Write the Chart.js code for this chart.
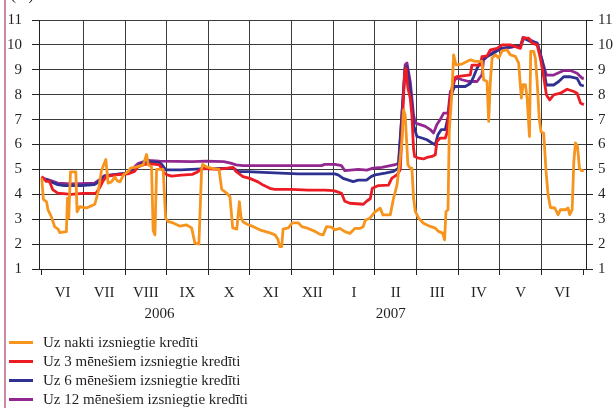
<!DOCTYPE html>
<html>
<head>
<meta charset="utf-8">
<script src="https://cdn.jsdelivr.net/npm/chart.js@4/dist/chart.umd.min.js"></script>
<style>
  html, body { margin: 0; padding: 0; background: #fff; }
  #wrap { position: relative; width: 615px; height: 408px; overflow: hidden; }
  #frame { position: absolute; left: 4px; top: 0; width: 0; height: 408px; border-left: 2px solid #c98b9f; }
  #unit { position: absolute; left: 11px; top: -13px; font: 15px "Liberation Serif", serif; color: #231f20; }
  #legend { position: absolute; left: 9px; top: 333px; font: 15px "Liberation Serif", serif; color: #231f20; }
  #legend .row { height: 19px; line-height: 19px; white-space: nowrap; }
  #legend .sw { display: inline-block; width: 24px; height: 3px; vertical-align: middle; margin-right: 10px; position: relative; top: -1px; }
</style>
</head>
<body>
<div id="wrap">
  <canvas id="c" width="615" height="408"></canvas>
  <div id="frame"></div>
  <div id="unit">(%)</div>
  <div id="legend"></div>
</div>
<script>
// x values: days counted from 1 June 2006 (one month = 365/12 days on the axis)
const seriesLabels = [
  "Uz nakti izsniegtie kredīti",
  "Uz 3 mēnešiem izsniegtie kredīti",
  "Uz 6 mēnešiem izsniegtie kredīti",
  "Uz 12 mēnešiem izsniegtie kredīti"
];
const seriesColors = ["#f7941d", "#ed1c24", "#2e3192", "#92278f"];

const monthLabels = ["VI","VII","VIII","IX","X","XI","XII","I","II","III","IV","V","VI",""];
const yearLabels = ["2006", "2007"];
const yearLabelDays = [86, 255];
const yTickValues = [1,2,3,4,5,6,7,8,9,10,11];

const nightDays = [0,1.2,3.5,4.6,7,9.5,12,13.2,18,18.8,19.7,21,24.9,25.8,27.8,32.7,38.8,41.2,43.7,46.8,48.5,51,53.4,55,57.1,60,62.9,64.9,69.3,74.1,76.6,77.8,80.2,81.4,82.7,83.9,88.7,90.5,92.4,96,101,105.8,109.5,111.9,114.8,116.8,117.5,120.4,124,129.5,131.5,135,137.5,139.5,142.5,144.4,145.5,147,150,154.6,160.4,166.8,170.4,172.5,173.9,175.3,176.3,180.2,183,187.5,190,194.6,200,203,205.6,208,211.6,214.1,217.8,221.4,225.1,228.7,232.4,234.8,236.5,239.7,243.6,247.3,249.2,254.6,257,259.5,260.7,261.9,263.1,264.3,265.5,267.5,269.2,270.4,271.6,272.9,275.3,278.9,283.8,287.5,289.9,292.8,294.3,295.3,296.8,297.7,299.7,300.9,302.6,307,313.1,316.7,321.6,322.8,325.3,326.5,327.7,329,331.4,333.8,336.3,339.9,342.4,346,348.4,350.4,351.6,353.3,354.6,356.3,357.2,359.4,360.6,361.9,363.5,364.8,366.7,368.4,369.9,371.6,374.8,377.2,378.9,382.6,384.5,385.7,387.5,388.7,389.9,391.4,392.8,394.3,396];
const nightRates = [4.65,3.8,3.7,3.37,3.1,2.69,2.6,2.46,2.5,3.85,3.05,4.9,4.9,3.3,3.5,3.45,3.6,4.1,4.97,5.4,4.45,4.5,4.7,4.55,4.5,4.8,4.9,5.05,5.1,5.18,5.6,5.18,5.1,2.55,2.37,5.0,5.0,3.05,2.9,2.85,2.72,2.77,2.65,2.04,2.0,5.0,5.2,5.1,5.05,5.0,4.2,4.05,3.9,2.65,2.6,3.7,3.1,2.9,2.8,2.7,2.55,2.45,2.37,2.2,1.9,1.9,2.6,2.65,2.85,2.85,2.7,2.63,2.5,2.4,2.37,2.7,2.68,2.57,2.63,2.5,2.43,2.63,2.63,2.7,2.97,3.04,3.3,3.44,3.17,3.17,3.84,4.37,4.9,5.45,6.12,7.39,7.19,5.19,5.05,5.05,3.85,3.31,3.04,2.84,2.71,2.64,2.51,2.44,2.17,3.31,3.38,6.52,8.13,9.6,9.2,9.23,9.4,9.34,9.34,8.6,8.53,6.93,8.53,9.47,9.6,9.47,9.76,9.8,9.6,9.54,9.27,7.86,8.4,8.4,7.86,6.32,9.74,9.74,9.47,8.53,7.0,6.5,6.46,4.92,3.98,3.47,3.45,3.18,3.38,3.38,3.45,3.18,3.38,5.32,6.06,5.92,5.05,4.95,4.95];

const m3Days = [0,2,3.2,5.6,8,11.7,21.5,30,39.7,42.2,44.6,47.1,55.6,62.9,67.8,70.2,75,80,86,89.7,92.2,95,101.9,110,114.1,116.6,128.7,136,139.7,142.1,147,151.9,155,158,161.7,166.6,170.2,182.4,194.6,206.8,213.1,216,219,221.4,225.1,235,237.5,240,241.5,246,253.3,255.8,259.5,261.9,263.6,265.1,266.1,267.5,269.2,270.4,271.6,272.4,275.3,278.9,281.4,285.1,287.5,288.7,291.1,294.8,296,297.2,298.5,300.1,301.6,303.4,313.1,314.3,320.4,321.6,325.3,327.7,332.6,336.3,342.4,349.7,351.6,355.8,358.2,361.9,364.3,366.7,368.7,371.1,374,378.9,383.8,388.7,391.1,393.6,396];
const m3Rates = [4.72,4.6,4.52,4.52,4.19,4.05,4.0,4.04,4.05,4.25,4.52,4.72,4.79,4.82,4.92,5.1,5.2,5.22,5.18,4.84,4.77,4.73,4.77,4.8,4.91,5.04,5.0,5.05,5.08,4.91,4.71,4.64,4.57,4.5,4.37,4.24,4.2,4.2,4.17,4.17,4.15,4.1,4.04,3.72,3.64,3.6,3.73,3.82,4.24,4.35,4.37,4.65,4.78,4.99,7.0,8.9,9.07,8.27,7.86,7.19,5.85,5.52,5.45,5.42,5.48,5.52,5.59,6.12,6.26,6.26,6.46,7.19,7.86,8.4,8.67,8.73,8.8,9.19,9.19,9.53,9.56,9.8,9.86,10.0,10.0,9.86,10.27,10.27,10.07,10.0,9.46,8.72,7.99,7.79,7.99,8.06,8.22,8.13,8.06,7.67,7.6];

const m6Days = [0,4.4,11.7,16.6,28.8,38.5,42.2,45.8,53.2,62.9,70.2,75.1,81.2,86,88,90.5,101.9,116.6,140,142,144,150,161.7,187.3,214.1,216.5,220.2,227.5,231.2,237.2,240.9,243.6,250.9,257,260.6,263.1,265.5,266.8,269.2,271.6,274.1,277.7,281.4,285.1,287.5,289.4,291.9,294.8,297.2,298.5,300.1,301.6,309.4,313.1,315.5,318,321.6,325.3,330.1,335,344.8,349.7,352.1,357,361.9,365.5,368.7,374,377.7,381.3,386.2,391.1,393.6,396];
const m6Rates = [4.65,4.56,4.39,4.35,4.35,4.39,4.52,4.72,4.79,4.85,5.12,5.32,5.3,5.27,5.18,4.98,4.98,5.02,5.05,4.98,4.91,4.91,4.88,4.82,4.82,4.78,4.64,4.51,4.57,4.57,4.72,4.78,4.85,4.92,5.05,7.19,9.07,9.13,8.27,6.79,6.32,6.26,6.19,6.06,5.99,6.39,6.6,6.6,7.19,7.86,8.13,8.33,8.33,8.45,8.72,9.06,9.39,9.53,9.66,9.86,9.93,9.93,10.27,10.14,10.07,9.39,8.39,8.39,8.53,8.72,8.72,8.66,8.39,8.35];

const m12Days = [0,4.4,11.7,21.5,38.5,42.2,45.8,62.9,70.2,77.5,86,110,120,133,138,142,147,204.3,206.8,214.1,219,221.4,231.2,237.5,242.1,248.5,258.2,260.6,263.1,265.5,266.8,269.2,271.6,272.9,276.5,280.2,283.8,286.2,288.7,291.1,293.6,296.8,298.5,300.1,301.6,303.4,307,311.9,318,321.6,322.8,325.3,330.1,335,344.8,349.7,351.6,357,361.9,365.5,368.7,374,381.3,386.2,391.1,394.8,396];
const m12Rates = [4.65,4.59,4.45,4.42,4.45,4.59,4.75,4.85,5.23,5.36,5.33,5.31,5.33,5.31,5.25,5.18,5.15,5.15,5.2,5.2,5.15,4.95,5.0,4.97,5.05,5.08,5.19,5.25,7.19,9.2,9.27,8.53,7.19,6.86,6.8,6.73,6.6,6.46,6.8,7.0,7.26,7.26,8.13,8.2,8.6,8.67,8.6,8.53,8.53,8.8,9.39,9.53,9.73,9.82,9.93,9.95,10.3,10.2,10.07,9.39,8.79,8.79,8.97,8.97,8.86,8.66,8.66];

const MONTH = 365 / 12;
const monthStarts = monthLabels.map((_, i) => i * MONTH);
const toPoints = (xs, ys) => xs.map((x, i) => ({ x: x, y: ys[i] }));
const allDays = [nightDays, m3Days, m6Days, m12Days];
const allRates = [nightRates, m3Rates, m6Rates, m12Rates];

const TXT = "#231f20";
const GRID = "#3c3c3c";
Chart.defaults.font.family = '"Liberation Serif", "Times New Roman", serif';
Chart.defaults.font.size = 15;
Chart.defaults.color = TXT;

const datasets = seriesLabels.map((lab, i) => ({
  label: lab,
  data: toPoints(allDays[i], allRates[i]),
  borderColor: seriesColors[i],
  backgroundColor: seriesColors[i],
  borderWidth: 2.8,
  pointRadius: 0,
  tension: 0,
  fill: false,
  borderJoinStyle: "round"
}));

const X_MIN = -2, X_MAX = 397.6;

const chart = new Chart(document.getElementById("c"), {
  type: "line",
  data: { datasets },
  options: {
    responsive: false,
    animation: false,
    events: [],
    layout: { padding: { top: 20, bottom: 85, left: 0, right: 0 } },
    plugins: { legend: { display: false }, tooltip: { enabled: false } },
    scales: {
      x: {
        type: "linear", position: "bottom", weight: 0,
        min: X_MIN, max: X_MAX,
        afterBuildTicks: s => { s.ticks = monthStarts.map(v => ({ value: v })); },
        afterFit: s => { s.height = 34; },
        ticks: {
          autoSkip: false, maxRotation: 0, minRotation: 0,
          labelOffset: MONTH * 1.369 / 2, padding: 9,
          callback: (v, i) => monthLabels[i]
        },
        grid: {
          color: c => (c.index === 0 || c.index === monthStarts.length - 1) ? "rgba(0,0,0,0)" : GRID,
          tickColor: "#222", tickLength: 6, lineWidth: 1
        },
        border: { display: true, color: "#222", width: 1 }
      },
      xYear: {
        type: "linear", position: "bottom", weight: 1,
        min: X_MIN, max: X_MAX,
        afterBuildTicks: s => { s.ticks = yearLabelDays.map(v => ({ value: v })); },
        afterFit: s => { s.height = 20; },
        ticks: { autoSkip: false, maxRotation: 0, padding: 2, callback: (v, i) => yearLabels[i] },
        grid: { display: false, drawTicks: false },
        border: { display: false }
      },
      y: {
        position: "left", min: 1, max: 11,
        afterBuildTicks: s => { s.ticks = yTickValues.map(v => ({ value: v })); },
        afterFit: s => { s.width = 39; },
        ticks: { padding: 10, callback: v => String(v) },
        grid: { color: GRID, tickColor: "#222", tickLength: 7, lineWidth: 1 },
        border: { display: true, color: "#222", width: 1 }
      },
      y2: {
        position: "right", min: 1, max: 11,
        afterBuildTicks: s => { s.ticks = yTickValues.map(v => ({ value: v })); },
        afterFit: s => { s.width = 29; },
        ticks: { padding: 5, callback: v => String(v) },
        grid: { drawOnChartArea: false, tickColor: "#222", tickLength: 7 },
        border: { display: true, color: "#222", width: 1 }
      }
    }
  }
});

// legend built from the chart's datasets
const lg = document.getElementById("legend");
chart.data.datasets.forEach(ds => {
  const row = document.createElement("div");
  row.className = "row";
  const sw = document.createElement("span");
  sw.className = "sw";
  sw.style.background = ds.borderColor;
  row.appendChild(sw);
  row.appendChild(document.createTextNode(ds.label));
  lg.appendChild(row);
});
</script>
</body>
</html>
